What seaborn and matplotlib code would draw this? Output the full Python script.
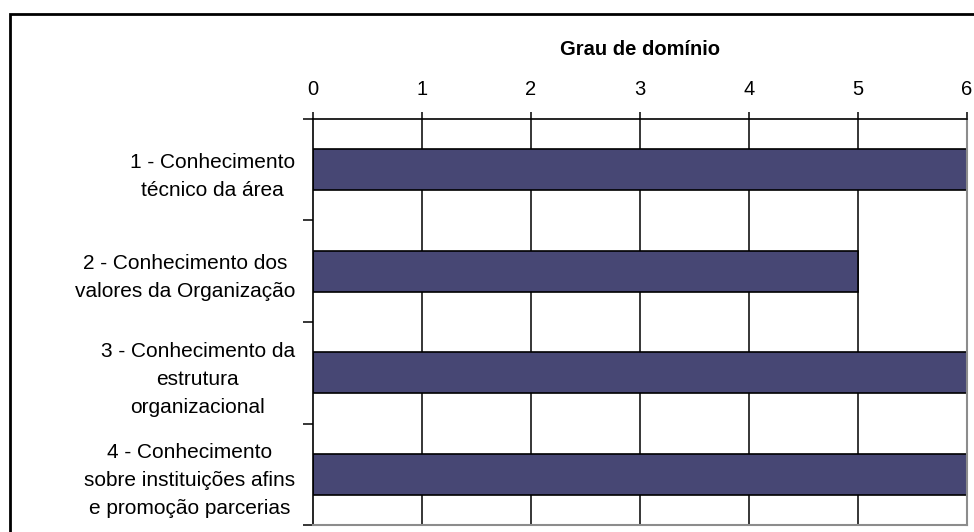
import matplotlib
matplotlib.use("Agg")
import matplotlib.pyplot as plt
from matplotlib.patches import Rectangle
from matplotlib.ticker import FixedLocator
import seaborn as sns
import pandas as pd

categories = [
    "1 - Conhecimento\ntécnico da área",
    "2 - Conhecimento dos\nvalores da Organização",
    "3 - Conhecimento da\nestrutura\norganizacional",
    "4 - Conhecimento\nsobre instituições afins\ne promoção parcerias",
]
values = [6, 5, 6, 6]
x_ticks = [0, 1, 2, 3, 4, 5, 6]
axis_title = "Grau de domínio"

sns.set_theme(style="white")
plt.rcParams["font.family"] = ["Liberation Sans", "DejaVu Sans"]
plt.rcParams["font.size"] = 14.5
plt.rcParams["text.color"] = "black"
plt.rcParams["axes.labelcolor"] = "black"
plt.rcParams["xtick.color"] = "black"
plt.rcParams["ytick.color"] = "black"

df = pd.DataFrame({"item": categories, "grau": values})

fig = plt.figure(figsize=(9.74, 5.32), dpi=100)
ax = fig.add_axes([313 / 974, 1 - 525 / 532, (967 - 313) / 974, (525 - 119) / 532])

sns.barplot(data=df, y="item", x="grau", orient="h", color="#474774",
            saturation=1, edgecolor="black", linewidth=1.2, width=0.40, ax=ax)

ax.set_xlim(0, 6)
ax.set_ylim(len(categories) - 0.5, -0.5)

# vertical grid behind the bars
for v in x_ticks[1:-1]:
    ax.axvline(v, color="black", lw=1.1, zorder=0)
ax.set_axisbelow(True)

# x axis on top
ax.xaxis.tick_top()
ax.xaxis.set_label_position("top")
ax.set_xticks(x_ticks)
ax.tick_params(axis="x", which="major", direction="out", length=5, width=1.1,
               color="black", labelcolor="black", pad=9.5, labelsize=14.5,
               top=True, bottom=False)
ax.set_xlabel(axis_title, fontsize=14.5, fontweight="bold", labelpad=18,
              color="black")

# category labels centred between boundary ticks
ax.set_ylabel("")
ax.set_yticks(range(len(categories)))
ax.set_yticklabels(categories)
ax.yaxis.set_minor_locator(FixedLocator([i - 0.5 for i in range(len(categories) + 1)]))
ax.tick_params(axis="y", which="major", length=0, pad=13, labelsize=15,
               labelcolor="black", left=True)
ax.tick_params(axis="y", which="minor", length=7, width=1.1, color="black",
               direction="out", left=True)
for t in ax.get_yticklabels():
    t.set_multialignment("center")
    t.set_linespacing(1.6)

for side in ["top", "left"]:
    ax.spines[side].set_color("black")
    ax.spines[side].set_linewidth(1.2)
for side in ["right", "bottom"]:
    ax.spines[side].set_color("#8c8c8c")
    ax.spines[side].set_linewidth(1.5)
    ax.spines[side].set_visible(True)

# outer chart frame
fig.add_artist(Rectangle((9.5 / 974, -0.5), 2, 1 - 13.5 / 532 + 0.5,
                         transform=fig.transFigure, fill=False,
                         edgecolor="black", linewidth=2, clip_on=False))

fig.savefig("out.png", dpi=100)
